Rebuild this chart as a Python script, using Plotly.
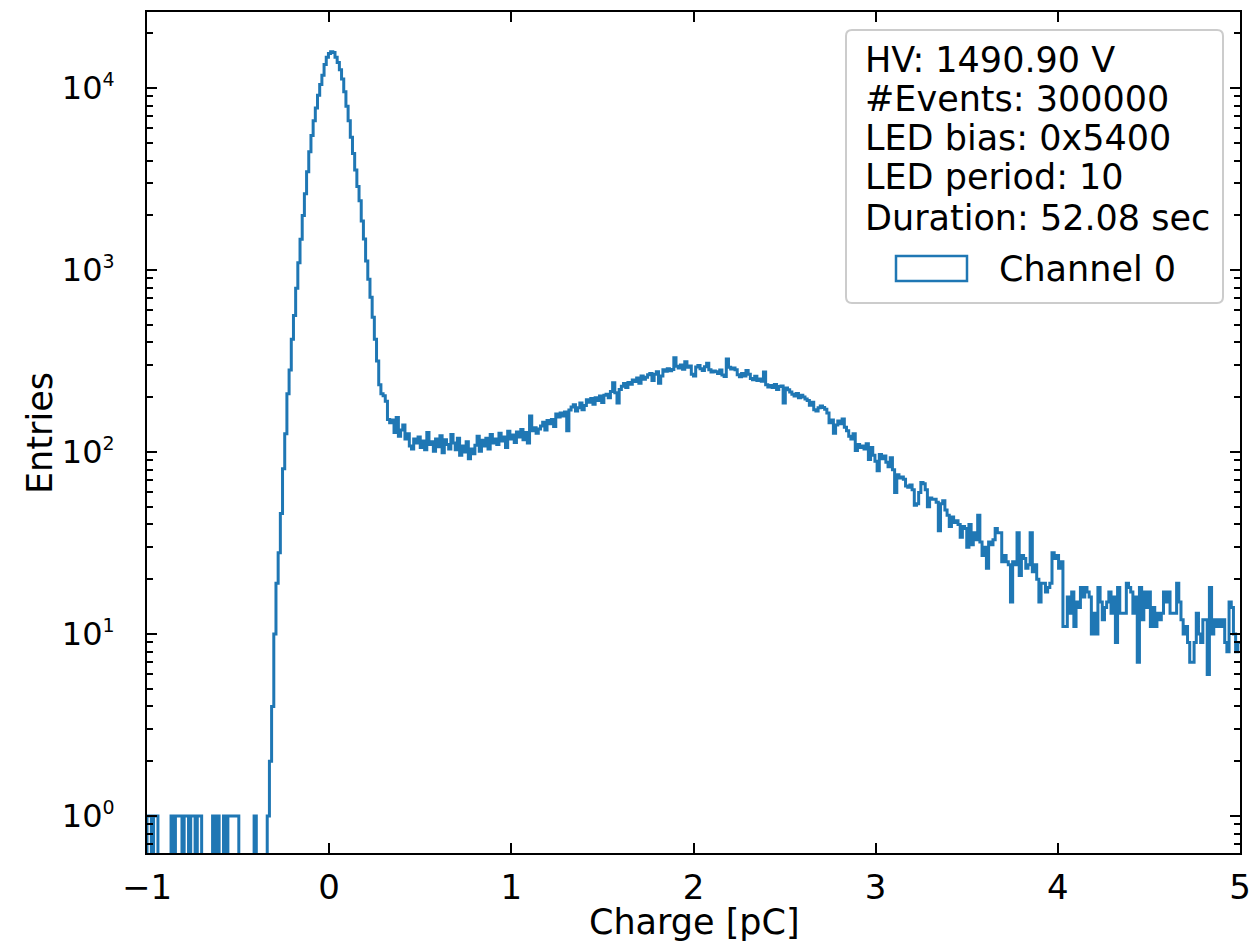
import numpy as np
import plotly.graph_objects as go

# ---------------- data ----------------
x_min, x_max, n_bins = -1.0, 5.0, 500

# bins 0-55 : noise floor below the pedestal (0 or 1 entries)
counts_floor = [1, 1, 0, 1, 1, 0, 0, 0, 0, 0,
                0, 1, 0, 1, 1, 1, 0, 1, 1, 0,
                1, 1, 0, 1, 1, 0, 0, 0, 0, 0,
                1, 0, 1, 0, 0, 1, 0, 1, 1, 1,
                1, 1, 0, 0, 0, 0, 0, 0, 0, 1,
                0, 0, 0, 0, 0, 1]

# bins 56-111 : pedestal peak
counts_pedestal = [2, 4, 10, 19, 28, 46, 81, 126, 209, 282,
                   417, 562, 794, 1096, 1479, 1995, 2630, 3467, 4467, 5495,
                   6607, 7762, 9120, 10470, 11750, 13490, 14790, 15490, 15850, 15670,
                   14790, 13800, 12590, 11220, 9550, 7940, 6610, 5370, 4365, 3550,
                   2880, 2400, 1860, 1480, 1120, 890, 710, 550, 417, 316,
                   234, 209, 204, 190, 151, 145]

# bins 112-199 : valley
counts_valley = [150, 128, 155, 122, 132, 141, 118, 126,
                 108, 104, 118, 112, 121, 106, 115, 103, 128, 110,
                 114, 101, 118, 107, 123, 99, 117, 110, 104, 125,
                 112, 103, 119, 96, 108, 100, 114, 92, 104, 98,
                 109, 122, 101, 116, 108, 119, 104, 125, 112, 118,
                 110, 127, 115, 121, 106, 130, 118, 124, 113, 129,
                 121, 133, 117, 128, 112, 158, 131, 136, 127, 134,
                 139, 146, 132, 149, 143, 151, 138, 162, 156, 164,
                 158, 166, 131, 170, 177, 182, 168, 175, 186, 171]

# bins 200-339 : single photo-electron peak
counts_spe = [180, 194, 188, 197, 183, 199, 192, 203, 187, 205,
              208, 199, 215, 240, 212, 186, 221, 230, 238, 226,
              241, 236, 249, 244, 255, 239, 262, 251, 258, 266,
              270, 247, 268, 276, 239, 262, 283, 278, 287, 280,
              284, 330, 296, 290, 301, 285, 314, 292, 297, 268,
              262, 293, 299, 287, 281, 294, 308, 283, 275, 279,
              276, 270, 282, 265, 260, 325, 292, 286, 290, 283,
              266, 259, 270, 262, 281, 268, 254, 250, 261, 247,
              252, 245, 275, 234, 228, 232, 226, 235, 221, 229,
              231, 186, 225, 220, 214, 208, 203, 210, 199, 205,
              201, 196, 192, 181, 188, 171, 168, 175, 179, 176,
              172, 164, 145, 150, 127, 141, 148, 143, 152, 137,
              131, 122, 118, 126, 102, 110, 106, 108, 104, 111,
              91, 106, 96, 89, 79, 97, 92, 95, 88, 83]

# bins 340-499 : high-charge tail
counts_tail = [93, 80, 60, 75, 72, 73, 71, 65, 64, 66,
               62, 51, 52, 60, 68, 67, 62, 50, 56, 55,
               55, 53, 37, 52, 54, 48, 45, 39, 44, 41,
               42, 40, 34, 39, 38, 30, 40, 31, 36, 33,
               45, 32, 27, 30, 23, 32, 31, 33, 38, 36,
               36, 25, 27, 25, 24, 15, 25, 24, 36, 21,
               27, 26, 23, 24, 36, 22, 24, 20, 15, 19,
               19, 17, 18, 19, 28, 26, 27, 23, 25, 11,
               11, 16, 13, 17, 11, 15, 14, 18, 16, 18,
               17, 16, 10, 13, 10, 18, 15, 12, 14, 15,
               17, 13, 16, 9, 18, 13, 13, 13, 19, 18,
               17, 13, 16, 7, 18, 12, 17, 14, 17, 11,
               14, 11, 13, 12, 13, 17, 15, 17, 13, 13,
               13, 19, 15, 12, 10, 11, 9, 7, 7, 9,
               13, 10, 9, 12, 12, 6, 18, 10, 12, 11,
               12, 11, 12, 9, 8, 15, 14, 10, 8, 9]

x_ticks = [-1, 0, 1, 2, 3, 4, 5]
y_ticks = [1, 10, 100, 1000, 10000]
y_exponents = ["0", "1", "2", "3", "4"]
x_title = "Charge [pC]"
y_title = "Entries"
info_lines = ["HV: 1490.90 V", "#Events: 300000", "LED bias: 0x5400",
              "LED period: 10", "Duration: 52.08 sec"]
series_name = "Channel 0"

# ---------------- build step outline ----------------
counts = np.array(counts_floor + counts_pedestal + counts_valley
                  + counts_spe + counts_tail, dtype=float)
assert len(counts) == n_bins
edges = np.linspace(x_min, x_max, n_bins + 1)
tiny = 1e-3  # empty bins drop below the axis, as in a log-scale step histogram
y_vals = np.where(counts > 0, counts, tiny)
x_line = np.concatenate([[edges[0]], edges])
y_line = np.concatenate([[tiny], y_vals, [y_vals[-1]]])

W, H = 1256, 943
L, R, T, B = 147, 16, 12, 90
pw, ph = W - L - R, H - T - B

def px(xp):
    return (xp - L) / pw

def py(yp):
    return (H - B - yp) / ph

BLUE = "#1f77b4"
FONT = "DejaVu Sans"
FS = 35
TFS = 34

y_tick_labels = [f"10<sup><span style='font-size:19px'>{e}</span></sup>" for e in y_exponents]

fig = go.Figure()
fig.add_trace(go.Scatter(x=x_line, y=y_line, mode="lines", line_shape="hv",
                         line=dict(color=BLUE, width=3), name=series_name,
                         showlegend=False, hoverinfo="skip"))

minor_vals = [k * 10.0 ** n for n in range(-1, 5) for k in range(2, 10)]

fig.update_layout(
    width=W, height=H, margin=dict(l=L, r=R, t=T, b=B, autoexpand=False),
    plot_bgcolor="white", paper_bgcolor="white",
    font=dict(family=FONT, size=FS, color="black"),
    showlegend=False,
    xaxis=dict(range=[x_min, x_max], tickvals=x_ticks, ticks="inside",
               ticklen=10, tickwidth=2, tickcolor="black",
               tickfont=dict(size=TFS),
               showline=True, linewidth=2, linecolor="black", mirror="ticks",
               showgrid=False, zeroline=False, ticklabelstandoff=3,
               automargin=False),
    yaxis=dict(type="log", range=[-0.203, 4.418], tickvals=y_ticks,
               ticktext=y_tick_labels, ticks="inside", ticklen=10,
               tickwidth=2, tickcolor="black", tickfont=dict(size=32),
               showline=True, linewidth=2, linecolor="black", mirror="ticks",
               showgrid=False, zeroline=False, ticklabelstandoff=24,
               automargin=False,
               minor=dict(tickvals=minor_vals, ticks="inside", ticklen=6,
                          tickwidth=1.5, tickcolor="black", showgrid=False)),
)

# axis titles
fig.add_annotation(text=x_title, x=px(694), y=py(922), xref="paper", yref="paper",
                   xanchor="center", yanchor="middle", showarrow=False,
                   font=dict(size=FS, family=FONT, color="black"))
fig.add_annotation(text=y_title, x=px(40), y=py(433), xref="paper", yref="paper",
                   xanchor="center", yanchor="middle", showarrow=False, textangle=-90,
                   font=dict(size=FS, family=FONT, color="black"))

# legend frame (rounded, light grey)
x0, x1, y0, y1 = px(846), px(1223), py(303), py(30)
rx, ry = 6 / pw, 6 / ph
path = (f"M{x0+rx},{y1} L{x1-rx},{y1} Q{x1},{y1} {x1},{y1-ry} "
        f"L{x1},{y0+ry} Q{x1},{y0} {x1-rx},{y0} L{x0+rx},{y0} "
        f"Q{x0},{y0} {x0},{y0+ry} L{x0},{y1-ry} Q{x0},{y1} {x0+rx},{y1} Z")
fig.add_shape(type="path", path=path, xref="paper", yref="paper",
              line=dict(color="#cccccc", width=2), fillcolor="rgba(255,255,255,0.8)")

centers = [60, 99, 138, 177, 218]
for txt, cy in zip(info_lines, centers):
    fig.add_annotation(text=txt, x=px(863), y=py(cy), xref="paper", yref="paper",
                       xanchor="left", yanchor="middle", showarrow=False,
                       font=dict(size=FS, family=FONT, color="black"))

# legend entry (patch + label)
fig.add_shape(type="rect", xref="paper", yref="paper",
              x0=px(896), x1=px(967), y0=py(281), y1=py(256),
              line=dict(color=BLUE, width=2.5), fillcolor="rgba(0,0,0,0)")
fig.add_annotation(text=series_name, x=px(997), y=py(269), xref="paper", yref="paper",
                   xanchor="left", yanchor="middle", showarrow=False,
                   font=dict(size=FS, family=FONT, color="black"))

fig.write_html("out.html", config={"displayModeBar": False},
               post_script="document.body.style.margin='0';")
